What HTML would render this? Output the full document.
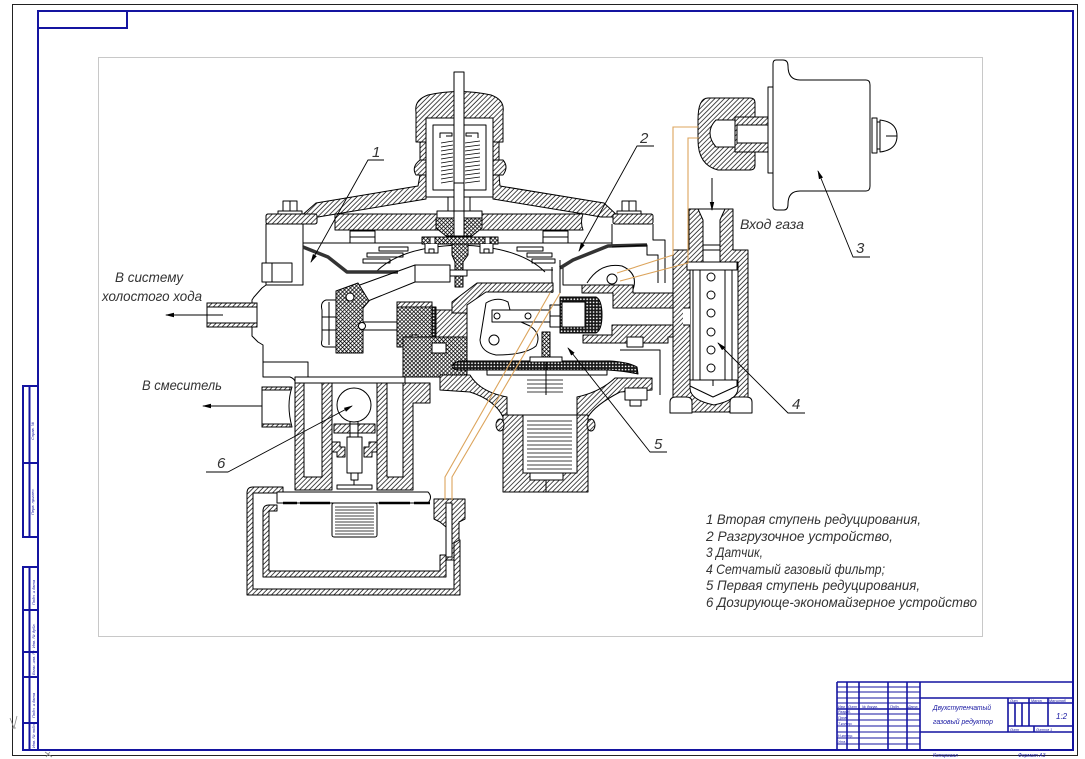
<!DOCTYPE html>
<html><head><meta charset="utf-8"><style>
html,body{margin:0;padding:0;background:#fff}
svg{display:block}
</style></head><body>
<svg width="1085" height="759" viewBox="0 0 1085 759" xmlns="http://www.w3.org/2000/svg">
<defs>
<pattern id="h" width="3.4" height="3.4" patternUnits="userSpaceOnUse" patternTransform="rotate(45)"><rect width="3.4" height="3.4" fill="#fff"/><line x1="0.6" y1="0" x2="0.6" y2="3.4" stroke="#000" stroke-width="0.7"/></pattern>
<pattern id="x" width="2.8" height="2.8" patternUnits="userSpaceOnUse" patternTransform="rotate(45)"><rect width="2.8" height="2.8" fill="#fff"/><path d="M0.6 0V2.8M0 0.6H2.8" stroke="#000" stroke-width="0.75"/></pattern>
<pattern id="n" width="3.2" height="3.2" patternUnits="userSpaceOnUse"><rect width="3.2" height="3.2" fill="#1a1a1a"/><circle cx="1.6" cy="1.6" r="0.85" fill="#fff"/></pattern>
<marker id="ar" markerWidth="9" markerHeight="6" refX="8" refY="3" orient="auto" markerUnits="userSpaceOnUse"><path d="M0 0.8 L9 3 L0 5.2 Z" fill="#000"/></marker>
</defs>

<!-- outer frame -->
<rect x="12.5" y="4.5" width="1065" height="751" fill="none" stroke="#222" stroke-width="1"/>
<g stroke="#1414a0" stroke-width="2" fill="none">
<rect x="38" y="11" width="1035" height="739"/>
<rect x="38" y="11" width="89" height="17"/>
<rect x="23" y="386" width="15" height="151"/>
<line x1="23" y1="463" x2="38" y2="463"/>
<line x1="29.5" y1="386" x2="29.5" y2="537"/>
<rect x="23" y="567" width="15" height="183"/>
<line x1="23" y1="610" x2="38" y2="610"/>
<line x1="23" y1="652" x2="38" y2="652"/>
<line x1="23" y1="677" x2="38" y2="677"/>
<line x1="23" y1="723" x2="38" y2="723"/>
<line x1="29.5" y1="567" x2="29.5" y2="750"/>
</g>
<g fill="#1414a0" font-family="Liberation Sans, sans-serif" font-size="4" font-style="italic">
<text transform="translate(34,440) rotate(-90)">Справ. №</text>
<text transform="translate(34,515) rotate(-90)">Перв. примен.</text>
<text transform="translate(35,605) rotate(-90)">Подп. и дата</text>
<text transform="translate(35,648) rotate(-90)">Инв. № дубл.</text>
<text transform="translate(35,675) rotate(-90)">Взам. инв. №</text>
<text transform="translate(35,718) rotate(-90)">Подп. и дата</text>
<text transform="translate(35,748) rotate(-90)">Инв. № подл.</text>
</g>
<g stroke="#888" stroke-width="0.8" fill="none"><path d="M10 718 L14 728 L17 716 M12 728 L16 728"/><path d="M45 752 L52 757 M50 752 L46 757"/></g>

<!-- inner grey sheet -->
<rect x="98.5" y="57.5" width="884" height="579" fill="#fff" stroke="#c8c8c8" stroke-width="1"/>

<!-- ========== MAIN DRAWING ========== -->
<g stroke="#000" stroke-width="1" fill="none" stroke-linejoin="round">

<!-- cap -->
<path d="M416 142 L416 112 Q414 100 428 95 Q459 88 491 95 Q505 100 503 112 L503 142 L493 142 L493 118 L426 118 L426 142 Z" fill="url(#h)"/>
<rect x="420" y="142" width="6" height="18" fill="url(#h)"/>
<rect x="493" y="142" width="6" height="18" fill="url(#h)"/>
<path d="M420 160 Q411 167 416 175 L426 175 L426 160 Z" fill="url(#h)"/>
<path d="M493 160 L503 160 Q509 167 503 175 L493 175 Z" fill="url(#h)"/>

<!-- cover bands -->
<path d="M300 217 L316 203 L418 186 L420 175 L426 175 L426 199 L336 214 L318 217 Z" fill="url(#h)"/>
<path d="M619 217 L604 203 L500 186 L499 175 L493 175 L493 199 L584 214 L601 217 Z" fill="url(#h)"/>

<!-- spring housing -->
<rect x="426" y="118" width="67" height="79" fill="#fff"/>
<rect x="433" y="125" width="53" height="65"/>
<path d="M440 138 L440 133 L452 133 L452 136 L446 136 M478 138 L478 133 L466 133 L466 136 L472 136"/>
<g stroke-width="0.8">
<path d="M441 143 L453 141 M441 147 L453 145 M441 151 L453 149 M441 155 L453 153 M441 159 L453 157 M441 163 L453 161 M441 167 L453 165 M441 171 L453 169 M441 175 L453 173 M441 179 L453 177 M441 183 L453 181"/>
<path d="M465 143 L480 141 M465 147 L480 145 M465 151 L480 149 M465 155 L480 153 M465 159 L480 157 M465 163 L480 161 M465 167 L480 165 M465 171 L480 169 M465 175 L480 173 M465 179 L480 177 M465 183 L480 181"/>
</g>
<rect x="454" y="72" width="10" height="175" fill="#fff"/>
<line x1="454" y1="183" x2="464" y2="183"/>
<rect x="448" y="197" width="6" height="15" fill="#fff"/>
<rect x="464" y="197" width="6" height="15" fill="#fff"/>

<!-- flanges and bolts -->
<rect x="266" y="214" width="51" height="10" rx="2" fill="url(#h)"/>
<rect x="613" y="214" width="40" height="10" rx="2" fill="url(#h)"/>
<rect x="283" y="201" width="14" height="10" fill="#fff"/><line x1="290" y1="201" x2="290" y2="211"/>
<rect x="278" y="211" width="24" height="3" fill="#fff"/>
<rect x="622" y="201" width="14" height="10" fill="#fff"/><line x1="629" y1="201" x2="629" y2="211"/>
<rect x="617" y="211" width="24" height="3" fill="#fff"/>

<!-- plate -->
<path d="M335 214 L583 214 Q580 222 583 230 L335 230 Z" fill="url(#h)"/>
<path d="M436 218 L482 218 L482 228 L472 236 L446 236 L436 228 Z" fill="url(#x)"/>
<rect x="437" y="211" width="45" height="7" fill="#fff"/>
<rect x="454" y="211" width="10" height="25" fill="#fff"/>

<!-- under-cover chamber -->
<line x1="303" y1="243" x2="612" y2="243"/>
<line x1="612" y1="224" x2="612" y2="247"/>
<rect x="266" y="224" width="37" height="61" fill="#fff"/>
<rect x="262" y="263" width="30" height="19" fill="#fff"/><line x1="272" y1="263" x2="272" y2="282"/>
<rect x="350" y="231" width="25" height="12" fill="#fff"/><line x1="350" y1="237" x2="375" y2="237"/>
<rect x="543" y="231" width="25" height="12" fill="#fff"/><line x1="543" y1="237" x2="568" y2="237"/>
<rect x="379" y="247" width="29" height="4" fill="#fff"/>
<rect x="367" y="253" width="36" height="4" fill="#fff"/>
<rect x="363" y="259" width="27" height="4" fill="#fff"/>
<rect x="517" y="247" width="26" height="4" fill="#fff"/>
<rect x="527" y="253" width="25" height="4" fill="#fff"/>
<rect x="532" y="259" width="23" height="4" fill="#fff"/>
<path d="M376 272 Q400 247 460 245 Q520 247 545 272"/>
<rect x="422" y="237" width="76" height="7" fill="url(#x)"/>
<rect x="430" y="237" width="5" height="7" fill="#fff"/><rect x="485" y="237" width="5" height="7" fill="#fff"/>
<path d="M425 244 L425 253 L438 253 L438 244 M429 253 L429 249 L434 249 L434 253" fill="#fff"/>
<path d="M480 244 L480 253 L493 253 L493 244 M484 253 L484 249 L489 249 L489 253" fill="#fff"/>
<path d="M452 244 L468 244 L468 255 L463 262 L463 287 L455 287 L455 262 L452 255 Z" fill="url(#x)"/>
<rect x="450" y="270" width="17" height="6" fill="#fff"/>
<line x1="463" y1="270" x2="553" y2="270"/>
<path d="M303 247 L328 257 L347 272 L398 272" stroke="#333" stroke-width="3.5"/>
<path d="M560 268 L573 260 L608 246 L647 245" stroke="#333" stroke-width="3.5"/>
<path d="M612 247 L647 245 L647 255 L658 255 L658 283"/>
<path d="M653 224 L653 240 L665 240 L665 283"/>
<line x1="552" y1="267" x2="552" y2="293"/>
<line x1="560" y1="260" x2="560" y2="293"/>
<path d="M563 268 L563 285 L587 285"/>
<path d="M587 283 Q600 262 622 266 Q640 274 632 292"/>
<circle cx="612" cy="279" r="5" fill="#fff"/>

<!-- left body outline -->
<path d="M266 285 L262 288 L254 297 L252 300 L252 336 L258 342 L263 345 L263 377 L290 377 Q296 379 296 386"/>
<path d="M263 362 L308 362 L308 377"/>
<!-- idle pipe -->
<rect x="207" y="303" width="50" height="24" fill="#fff"/>
<rect x="207" y="303" width="50" height="4" fill="url(#h)"/>
<rect x="207" y="323" width="50" height="4" fill="url(#h)"/>
<line x1="223" y1="315" x2="166" y2="315" marker-end="url(#ar)"/>
<!-- mixer pipe -->
<path d="M262 387 L292 387 Q286 405 292 427 L262 427 Z" fill="#fff"/>
<rect x="262" y="387" width="28" height="3" fill="url(#h)"/>
<rect x="262" y="424" width="28" height="3" fill="url(#h)"/>
<line x1="262" y1="406" x2="203" y2="406" marker-end="url(#ar)"/>

<!-- lever and block -->
<rect x="415" y="265" width="35" height="17" fill="#fff"/>
<line x1="415" y1="265" x2="357" y2="286"/>
<line x1="415" y1="282" x2="368" y2="301"/>
<path d="M326 300 Q320 302 322 310 L322 340 Q320 347 326 347 L336 347 L336 300 Z" fill="#fff"/>
<line x1="322" y1="317" x2="336" y2="317"/><line x1="322" y1="330" x2="336" y2="330"/><line x1="329" y1="302" x2="329" y2="345"/>
<path d="M336 291 L358 283 L369 301 L363 308 L363 353 L336 353 Z" fill="url(#x)"/>
<circle cx="350" cy="297" r="4" fill="#fff"/>
<rect x="363" y="322" width="40" height="8" fill="#fff"/>
<circle cx="362" cy="326" r="3.5" fill="#fff"/>
<rect x="397" y="302" width="35" height="45" fill="url(#x)"/>
<rect x="397" y="302" width="35" height="5" fill="url(#h)"/>
<rect x="412" y="335" width="6" height="8" fill="#fff"/>
<rect x="432" y="307" width="4" height="36" fill="url(#n)"/>
<rect x="403" y="337" width="64" height="40" fill="url(#x)"/>
<rect x="432" y="343" width="14" height="10" fill="#fff"/>
<rect x="436" y="310" width="31" height="27" fill="url(#h)"/>
<path d="M477 283 L553 283 L553 292 L486 292 L467 305 L467 313 L452 313 L452 302 Z" fill="url(#h)"/>
<line x1="467" y1="305" x2="467" y2="362"/>
<rect x="295" y="377" width="110" height="6" fill="#fff"/>

<!-- dosing device housing -->
<path d="M295 383 L332 383 L332 490 L295 490 Z" fill="url(#h)"/>
<rect x="304" y="383" width="18" height="94" fill="#fff"/>
<path d="M377 383 L430 383 L430 403 L413 403 L413 490 L377 490 Z" fill="url(#h)"/>
<rect x="387" y="383" width="16" height="94" fill="#fff"/>
<circle cx="354" cy="405" r="17" fill="#fff"/>
<line x1="350" y1="422" x2="350" y2="437"/><line x1="358" y1="422" x2="358" y2="437"/>
<rect x="334" y="424" width="41" height="9" fill="url(#h)"/>
<rect x="350" y="424" width="8" height="9" fill="#fff"/>
<path d="M332 442 L340 442 L340 447 L345 447 L345 457 L337 457 L337 452 L332 452 Z" fill="url(#h)"/>
<path d="M377 442 L369 442 L369 447 L364 447 L364 457 L372 457 L372 452 L377 452 Z" fill="url(#h)"/>
<rect x="347" y="437" width="15" height="36" fill="#fff"/>
<rect x="351" y="473" width="7" height="7" fill="#fff"/>
<line x1="354" y1="480" x2="354" y2="486"/>
<rect x="337" y="485" width="35" height="4" fill="#fff"/>

<!-- dosing chamber -->
<path d="M247 493 Q247 487 253 487 L283 487 L283 493 L253 493 L253 589 L454 589 L454 540 L460 540 L460 595 L247 595 Z" fill="url(#h)"/>
<path d="M263 511 Q263 505 269 505 L277 505 L277 511 L269 511 L269 571 L440 571 L440 555 L446 555 L446 577 L263 577 Z" fill="url(#h)"/>
<path d="M434 499 L465 499 L465 519 L459 522 L459 540 L454 543 L454 560 L446 560 L446 527 L440 522 L434 519 Z" fill="url(#h)"/>
<rect x="446" y="503" width="6" height="54" fill="#fff"/>
<path d="M277 492 L428 492 Q433 497 428 503 L277 503 Z" fill="#fff"/>
<g stroke-width="2.5"><line x1="283" y1="503" x2="297" y2="503"/><line x1="300" y1="503" x2="330" y2="503"/><line x1="379" y1="503" x2="410" y2="503"/><line x1="414" y1="503" x2="430" y2="503"/></g>
<rect x="332" y="503" width="45" height="34" rx="2" fill="#fff"/>
<path stroke-width="0.8" d="M335 507 H374 M335 510 H374 M335 513 H374 M335 516 H374 M335 519 H374 M335 522 H374 M335 525 H374 M335 528 H374 M335 531 H374 M335 534 H374"/>

<!-- first stage: diaphragm, bowl, cup -->
<path d="M440 375 L470 375 Q480 392 507 397 L507 417 L503 417 Q495 400 470 392 L440 390 Z" fill="url(#h)"/>
<path d="M577 397 Q600 392 615 378 L652 378 L652 390 L620 392 Q595 405 588 417 L577 417 Z" fill="url(#h)"/>
<rect x="487" y="370" width="120" height="5" fill="#fff"/>
<path d="M452 366 Q455 361 462 361 L530 361 L530 357 L562 357 L562 361 L610 361 Q628 362 637 367 L638 374 Q625 371 608 370 L460 370 Q452 370 452 366 Z" fill="url(#n)"/>
<rect x="530" y="357" width="32" height="5" fill="#fff"/>
<path d="M503 415 L588 415 L588 492 L503 492 Z" fill="url(#h)"/>
<rect x="523" y="415" width="54" height="58" fill="#fff"/>
<rect x="530" y="473" width="33" height="7" fill="#fff"/>
<line x1="546" y1="480" x2="546" y2="492"/>
<ellipse cx="500" cy="425" rx="4" ry="6" fill="url(#h)"/>
<ellipse cx="591" cy="425" rx="4" ry="6" fill="url(#h)"/>
<path stroke-width="0.8" d="M527 380 H563 M527 384 H563 M527 388 H563 M527 392 H563 M527 421 H572 M527 425 H572 M527 429 H572 M527 433 H572 M527 437 H572 M527 441 H572 M527 445 H572 M527 449 H572 M527 453 H572 M527 457 H572 M527 461 H572 M527 465 H572 M527 469 H572"/>
<line x1="546" y1="362" x2="546" y2="395"/>
<rect x="625" y="388" width="22" height="12" fill="#fff"/>
<rect x="630" y="400" width="11" height="6" fill="#fff"/>

<!-- first stage lever -->
<path d="M486 303 Q497 296 508 302 L512 318 L530 326 Q542 334 536 346 Q525 355 496 355 Q481 352 480 340 Z" fill="#fff"/>
<rect x="492" y="310" width="58" height="12" fill="#fff"/>
<circle cx="497" cy="316" r="3" fill="#fff"/><circle cx="528" cy="316" r="3" fill="#fff"/>
<circle cx="494" cy="340" r="5" fill="#fff"/>
<rect x="542" y="332" width="8" height="25" fill="url(#x)"/>
<!-- fitting with net filter -->
<rect x="550" y="305" width="10" height="22" fill="#fff"/><line x1="550" y1="316" x2="560" y2="316"/>
<path d="M560 297 L596 297 Q602 300 602 315 Q602 330 596 333 L560 333 Z" fill="url(#n)"/>
<rect x="562" y="302" width="23" height="25" fill="#fff"/>
<!-- right body -->
<path d="M582 285 L633 285 L633 293 L683 293 L683 308 L613 308 L613 293 L582 293 Z" fill="url(#h)"/>
<path d="M612 325 L683 325 L683 337 L668 337 L668 343 L583 343 L583 335 L612 335 Z" fill="url(#h)"/>
<rect x="627" y="337" width="16" height="10" fill="#fff"/>
<path d="M620 350 L660 350 L660 395"/>

<!-- filter housing (4) -->
<path d="M673 250 L689 250 L689 209 L733 209 L733 250 L748 250 L748 398 Q748 412 730 412 L690 412 Q673 412 673 398 Z" fill="url(#h)"/>
<path d="M690 262 L738 262 L738 388 Q738 400 714 405 Q690 400 690 388 Z" fill="#fff"/>
<path d="M698 209 L725 209 L720 220 L720 262 L703 262 L703 220 Z" fill="#fff"/>
<rect x="703" y="245" width="17" height="5" fill="#fff"/>
<rect x="683" y="308" width="7" height="17" fill="#fff" stroke="none"/>
<line x1="683" y1="308" x2="690" y2="308"/><line x1="683" y1="325" x2="690" y2="325"/>
<rect x="687" y="262" width="50" height="8" fill="#fff"/>
<line x1="693" y1="270" x2="693" y2="380"/><line x1="700" y1="270" x2="700" y2="380"/>
<line x1="725" y1="270" x2="725" y2="380"/><line x1="732" y1="270" x2="732" y2="380"/>
<path d="M690 380 L737 380 L737 386 L713 397 L690 386 Z" fill="#fff"/>
<line x1="713" y1="380" x2="713" y2="386"/>
<circle cx="711" cy="277" r="4" fill="#fff"/><circle cx="711" cy="295" r="4" fill="#fff"/>
<circle cx="711" cy="313" r="4" fill="#fff"/><circle cx="711" cy="332" r="4" fill="#fff"/>
<circle cx="711" cy="350" r="4" fill="#fff"/><circle cx="711" cy="368" r="4" fill="#fff"/>
<path d="M670 413 L670 402 Q670 397 676 397 L686 397 Q692 397 692 402 L692 413 Z" fill="#fff"/>
<path d="M730 413 L730 402 Q730 397 736 397 L746 397 Q752 397 752 402 L752 413 Z" fill="#fff"/>

<!-- sensor (3) -->
<path d="M708 98 L750 98 Q755 98 755 103 L755 165 Q755 170 750 170 L718 170 Q698 165 698 140 L698 120 Q698 98 708 98 Z" fill="url(#h)"/>
<path d="M716 120 L737 120 L737 147 L716 147 Q710 140 710 133 Q710 126 716 120 Z" fill="#fff"/>
<rect x="735" y="117" width="33" height="35" fill="url(#h)"/>
<rect x="737" y="125" width="31" height="18" fill="#fff"/>
<path d="M776 60 Q773 60 773 64 L773 206 Q773 210 777 210 L784 210 Q788 210 788 204 Q788 191 800 191 L866 191 Q870 191 870 186 L870 85 Q870 80 866 80 L800 80 Q788 80 788 66 Q788 60 783 60 Z" fill="#fff"/>
<rect x="768" y="87" width="5" height="86" fill="#fff"/>
<rect x="872" y="118" width="5" height="35" fill="#fff"/>
<rect x="877" y="122" width="3" height="27" fill="#fff"/>
<path d="M880 120 Q897 122 897 136 Q897 150 880 152 Z" fill="#fff"/>
<line x1="886" y1="136" x2="897" y2="136"/>

<!-- gas inlet arrow -->
<line x1="712" y1="178" x2="712" y2="210" marker-end="url(#ar)"/>

<!-- leaders -->
<g stroke-width="0.9">
<path d="M384 160 L368 160 L311 262" marker-end="url(#ar)"/>
<path d="M654 146 L637 146 L579 251" marker-end="url(#ar)"/>
<path d="M870 257 L853 257 L818 171" marker-end="url(#ar)"/>
<path d="M805 413 L788 413 L718 343" marker-end="url(#ar)"/>
<path d="M667 452 L650 452 L568 348" marker-end="url(#ar)"/>
<path d="M206 472 L228 472 L352 406" marker-end="url(#ar)"/>
</g>
</g>

<!-- orange linkage -->
<g stroke="#dca45c" stroke-width="1.1" fill="none">
<path d="M698 127 L673 127 L673 255 L617 273"/>
<path d="M699 138 L688 138 L688 263 L620 281"/>
<path d="M550 293 L445 477 L445 500"/>
<path d="M560 293 L452 477 L452 500"/>
</g>

<!-- labels -->
<g font-family="Liberation Sans, sans-serif" font-style="italic" fill="#333">
<text x="372" y="157" font-size="15">1</text>
<text x="640" y="143" font-size="15">2</text>
<text x="856" y="253" font-size="15">3</text>
<text x="792" y="409" font-size="15">4</text>
<text x="654" y="449" font-size="15">5</text>
<text x="217" y="468" font-size="15">6</text>
<text x="115" y="282" font-size="14" textLength="68" lengthAdjust="spacingAndGlyphs">В систему</text>
<text x="102" y="301" font-size="14" textLength="100" lengthAdjust="spacingAndGlyphs">холостого хода</text>
<text x="142" y="390" font-size="14" textLength="80" lengthAdjust="spacingAndGlyphs">В смеситель</text>
<text x="740" y="229" font-size="14" textLength="64" lengthAdjust="spacingAndGlyphs">Вход газа</text>
<g font-size="14">
<text x="706" y="524" textLength="215" lengthAdjust="spacingAndGlyphs">1 Вторая ступень редуцирования,</text>
<text x="706" y="541" textLength="187" lengthAdjust="spacingAndGlyphs">2  Разгрузочное устройство,</text>
<text x="706" y="557" textLength="57" lengthAdjust="spacingAndGlyphs">3 Датчик,</text>
<text x="706" y="574" textLength="179" lengthAdjust="spacingAndGlyphs">4 Сетчатый газовый фильтр;</text>
<text x="706" y="590" textLength="214" lengthAdjust="spacingAndGlyphs">5 Первая ступень редуцирования,</text>
<text x="706" y="607" textLength="271" lengthAdjust="spacingAndGlyphs">6 Дозирующе-экономайзерное устройство</text>
</g>
</g>

<!-- title block -->
<g stroke="#1414a0" stroke-width="1.6" fill="none">
<line x1="837" y1="682" x2="1073" y2="682"/>
<line x1="837" y1="682" x2="837" y2="750"/>
<line x1="847" y1="682" x2="847" y2="750"/>
<line x1="859" y1="682" x2="859" y2="750"/>
<line x1="888" y1="682" x2="888" y2="750"/>
<line x1="907" y1="682" x2="907" y2="750"/>
<line x1="920" y1="682" x2="920" y2="750"/>
<g stroke-width="1.1">
<line x1="837" y1="687" x2="920" y2="687"/>
<line x1="837" y1="692" x2="920" y2="692"/>
<line x1="837" y1="698" x2="920" y2="698"/>
<line x1="837" y1="703" x2="920" y2="703"/>
<line x1="837" y1="714" x2="920" y2="714"/>
<line x1="837" y1="720" x2="920" y2="720"/>
<line x1="837" y1="726" x2="920" y2="726"/>
<line x1="837" y1="732" x2="920" y2="732"/>
<line x1="837" y1="738" x2="920" y2="738"/>
<line x1="837" y1="744" x2="920" y2="744"/>
</g>
<line x1="837" y1="709" x2="920" y2="709"/>
<line x1="920" y1="698" x2="1073" y2="698"/>
<line x1="920" y1="732" x2="1073" y2="732"/>
<line x1="1008" y1="698" x2="1008" y2="732"/>
<line x1="1008" y1="703" x2="1073" y2="703"/>
<line x1="1008" y1="726" x2="1073" y2="726"/>
<line x1="1029" y1="698" x2="1029" y2="726"/>
<line x1="1048" y1="698" x2="1048" y2="726"/>
<line x1="1015" y1="703" x2="1015" y2="726"/>
<line x1="1022" y1="703" x2="1022" y2="726"/>
<line x1="1034" y1="726" x2="1034" y2="732"/>
</g>
<g fill="#1414a0" font-family="Liberation Sans, sans-serif" font-style="italic">
<g font-size="3.6">
<text x="838" y="708">Изм</text><text x="848" y="708">Лист</text><text x="862" y="708">№ докум.</text><text x="890" y="708">Подп.</text><text x="908" y="708">Дата</text>
<text x="838" y="713">Разраб.</text><text x="838" y="719">Пров.</text><text x="838" y="725">Т.контр.</text>
<text x="838" y="737">Н.контр.</text><text x="838" y="743">Утв.</text>
<text x="1010" y="702">Лит.</text><text x="1031" y="702">Масса</text><text x="1049" y="702">Масштаб</text>
<text x="1010" y="731">Лист</text><text x="1036" y="731">Листов 1</text>
</g>
<text x="1056" y="719" font-size="8">1:2</text>
<text x="933" y="710" font-size="7.5" textLength="58" lengthAdjust="spacingAndGlyphs">Двухступенчатый</text>
<text x="933" y="724" font-size="7.5" textLength="60" lengthAdjust="spacingAndGlyphs">газовый редуктор</text>
<text x="933" y="757" font-size="5">Копировал</text>
<text x="1018" y="757" font-size="5">Формат   А3</text>
</g>
</svg>
</body></html>
